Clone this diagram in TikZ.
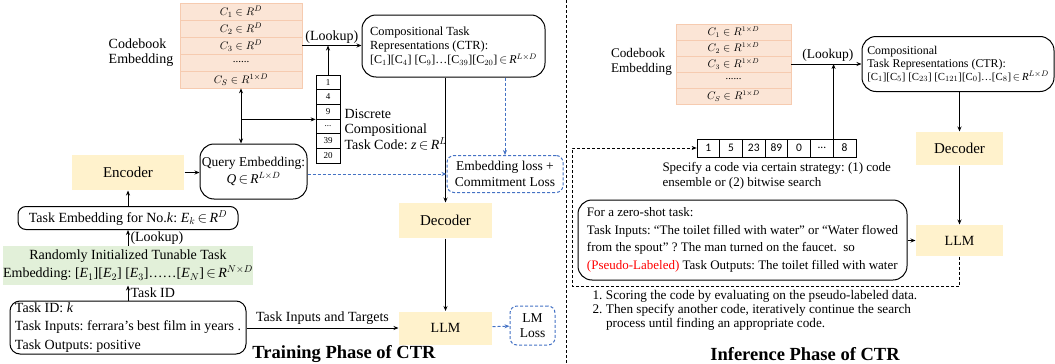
\documentclass[tikz,border=0pt]{standalone}
\usepackage{fontspec}
\setmainfont{Liberation Serif}
\newfontfamily\codefont{Carlito}
\usetikzlibrary{arrows.meta,calc}

\definecolor{orangefill}{RGB}{251,229,214}
\definecolor{orangeline}{RGB}{246,203,176}
\definecolor{yellowfill}{RGB}{255,242,204}
\definecolor{greenfill}{RGB}{226,240,217}
\definecolor{lossblue}{RGB}{68,114,196}
\definecolor{pseudored}{RGB}{255,0,0}

% bracketed indexed entry, e.g. [C_1]
\newcommand{\sq}[2]{[#1$_{#2}$]}
% "is in R^..." written compactly in text mode
\newcommand{\inR}[1]{\,$\in$\,\textit{R}$^{#1}$}

\tikzset{
  fs/.style={font=\fontsize{#1}{18}\selectfont},
  rbox/.style={draw, rounded corners=13pt, inner sep=0pt},
  yelbox/.style={fill=yellowfill, inner sep=0pt, minimum width=93pt, font=\fontsize{15}{18}\selectfont},
  cbrow/.style={fill=orangefill, draw=orangeline, line width=0.6pt, minimum width=122pt,
                minimum height=17pt, inner sep=0pt, font=\fontsize{11}{13}\selectfont},
  icbrow/.style={cbrow, minimum width=115pt, minimum height=16pt, font=\fontsize{10.5}{12}\selectfont},
  codecell/.style={draw, line width=0.7pt, minimum width=24pt, minimum height=14.67pt,
                   inner sep=0pt, font=\fontsize{9}{10}\selectfont},
  rowcell/.style={draw, line width=0.7pt, minimum width=22.7pt, minimum height=18pt,
                  inner sep=0pt, font=\codefont\fontsize{11.5}{13}\selectfont},
  lossbox/.style={draw=lossblue, dashed, dash pattern=on 3pt off 2pt, rounded corners=7pt,
                  inner sep=0pt, align=center, font=\fontsize{13.5}{15.5}\selectfont},
  blueflow/.style={draw=lossblue, dashed, dash pattern=on 3pt off 2pt, ->},
  phasetitle/.style={font=\bfseries\fontsize{18.5}{22}\selectfont},
}

\begin{document}
\frenchspacing
\begin{tikzpicture}[x=1pt, y=-1pt, line width=1pt,
  >={Stealth[length=5pt,width=4pt]}]
\useasboundingbox (0,0) rectangle (1055,364);

% ---------------- training phase ----------------
\node[cbrow] (cb1) at (241,11.5) {$C_1\in R^D$};
\node[cbrow] (cb2) at (241,28.5) {$C_2\in R^D$};
\node[cbrow] (cb3) at (241,45.5) {$C_3\in R^D$};
\node[cbrow] (cb4) at (241,62.5) {\raisebox{2pt}{......}};
\node[cbrow] (cb5) at (241,79.5) {$C_S\in R^{1\times D}$};
\node[align=left, inner sep=0pt, font=\fontsize{14}{15}\selectfont] (cbl) at (141,53) {Codebook\\Embedding};

\node[rbox, rounded corners=14pt, minimum width=183pt, minimum height=62pt,
      align=left, font=\fontsize{12.4}{14}\selectfont] (ctr) at (453.5,46)
  {Compositional Task\\Representations (CTR):\\
   {\fontsize{12}{14}\selectfont\sq{C}{1}\sq{C}{4} \sq{C}{9}\ldots\sq{C}{39}\sq{C}{20}\inR{L\times D}}};

\node[codecell] (k1) at (328,82.3) {1};
\node[codecell] (k2) at (328,97) {4};
\node[codecell] (k3) at (328,111.7) {9};
\node[codecell] (k4) at (328,126.3) {...};
\node[codecell] (k5) at (328,141) {39};
\node[codecell] (k6) at (328,155.7) {20};
\node[anchor=west, align=left, inner sep=0pt, font=\fontsize{14}{15}\selectfont] (zlbl) at (344,130)
  {Discrete\\Compositional\\Task Code: \textit{z}\inR{L}};

\node[rbox, rounded corners=14pt, minimum width=107pt, minimum height=55pt, align=center,
      font=\fontsize{13.5}{17}\selectfont] (query) at (253.5,171.5) {Query Embedding:\\\textit{Q}\inR{L\times D}};
\node[yelbox, minimum width=112pt, minimum height=35pt] (enc) at (128,172.5) {Encoder};
\node[lossbox, minimum width=116pt, minimum height=37pt] (loss) at (505,174) {Embedding loss +\\Commitment Loss};
\node[yelbox, minimum height=35pt] (dec) at (445.5,220.5) {Decoder};
\node[yelbox, minimum height=33pt, font=\fontsize{14}{16}\selectfont] (llm) at (445.5,328) {LLM};
\node[lossbox, minimum width=45pt, minimum height=39pt] (lml) at (532.5,325.5) {LM\\Loss};

\node[rbox, rounded corners=8pt, minimum width=220pt, minimum height=23pt, fs=14] (temb) at (128,218)
  {Task Embedding for No.\textit{k}: \textit{E}$_k$\inR{D}};
\node[fill=greenfill, inner sep=0pt, minimum width=243pt, minimum height=39pt, align=center,
      font=\fontsize{14}{18}\selectfont] (rand) at (128,265.5)
  {Randomly Initialized Tunable Task\\
   Embedding: \sq{\textit{E}}{1}\sq{\textit{E}}{2} \sq{\textit{E}}{3}\ldots\ldots\sq{\textit{E}}{N}\inR{N\times D}};
\node[rbox, rounded corners=10pt, minimum width=236pt, minimum height=53pt, align=left,
      font=\fontsize{14}{18.5}\selectfont] (task) at (128,327.5)
  {Task ID: \textit{k}\\Task Inputs: ferrara's best film in years .\\Task Outputs: positive};

\node[phasetitle] (t1) at (344,354) {Training Phase of CTR};

% training connectors
\draw[->] (task.north) -- (task.north |- rand.south)
  node[midway, right, inner sep=2pt, fs=14] {Task ID};
\draw[->] (rand.north) -- (rand.north |- temb.south)
  node[midway, right, inner sep=2pt, fs=14] {(Lookup)};
\draw[->] (temb.north) -- (temb.north |- enc.south);
\draw[->] (enc.east) -- (enc.east -| query.west);
\draw[<->] (cb5.south) -- (cb5.south |- query.north);
\coordinate (jn) at (cb5.south |- k3.south west);
\draw[->] (jn) -- (k3.south west);
\draw[->] (cb3.east) -- (cb3.east -| ctr.west)
  node[midway, above, inner sep=2pt, fs=14] {(Lookup)};
\draw[->] (k1.north) -- (k1.north |- cb3.east);
\draw[->] (ctr.south -| dec.north) -- (dec.north);
\draw[blueflow] (ctr.south -| loss.north) -- (loss.north);
\draw[blueflow] (query.east |- loss.west) -- (loss.west);
\draw[->] (dec) -- (llm);
\draw[->] (task.east |- llm.west) -- (llm.west)
  node[midway, above, inner sep=3pt, fs=14] {Task Inputs and Targets};
\draw[blueflow] (llm) -- (lml);

% divider between the two phases
\coordinate (divtop) at (566,0);
\coordinate (divbot) at (566,364);
\draw[dashed, dash pattern=on 3pt off 2pt] (divtop) -- (divbot);

% ---------------- inference phase ----------------
\node[icbrow] (ib1) at (733.5,32) {$C_1\in R^{1\times D}$};
\node[icbrow] (ib2) at (733.5,48) {$C_2\in R^{1\times D}$};
\node[icbrow] (ib3) at (733.5,64) {$C_3\in R^{1\times D}$};
\node[icbrow] (ib4) at (733.5,80) {\raisebox{2pt}{......}};
\node[icbrow] (ib5) at (733.5,96) {$C_S\in R^{1\times D}$};
\node[align=left, inner sep=0pt, font=\fontsize{13.2}{15}\selectfont] (icbl) at (641.5,61.5) {Codebook\\Embedding};

\node[rbox, rounded corners=14pt, minimum width=192pt, minimum height=55pt,
      align=left, font=\fontsize{11.9}{13}\selectfont] (ictr) at (958,64)
  {Compositional\\Task Representations (CTR):\\
   {\fontsize{10.8}{13}\selectfont\sq{C}{1}\sq{C}{5} \sq{C}{23} \sq{C}{121}\sq{C}{0}\ldots\sq{C}{8}\inR{L\times D}}};
\node[yelbox, minimum width=87pt, minimum height=33pt] (idec) at (959.5,148.5) {Decoder};
\node[yelbox, minimum width=87pt, minimum height=31pt, font=\fontsize{14}{16}\selectfont] (illm) at (959.5,240.5) {LLM};

\node[rowcell] (r1) at (708.35,148) {1};
\node[rowcell] (r2) at (731.05,148) {5};
\node[rowcell] (r3) at (753.75,148) {23};
\node[rowcell] (r4) at (776.45,148) {89};
\node[rowcell] (r5) at (799.15,148) {0};
\node[rowcell] (r6) at (821.85,148) {...};
\node[rowcell] (r7) at (844.55,148) {8};
\node[anchor=west, align=left, inner sep=0pt, font=\fontsize{13}{15}\selectfont] (spec) at (662,175.5)
  {Specify a code via certain strategy: (1) code\\ensemble or (2) bitwise search};

\node[rbox, rounded corners=14pt, minimum width=329pt, minimum height=80pt, align=left,
      font=\fontsize{13}{17.5}\selectfont] (zero) at (742.5,240)
  {For a zero-shot task:\\
   Task Inputs: ``The toilet filled with water'' or ``Water flowed\\
   from the spout'' ? The man turned on the faucet.\ \ so\\
   \textcolor{pseudored}{(Pseudo-Labeled)} Task Outputs: The toilet filled with water};

\node[anchor=north west, align=left, inner sep=0pt, font=\fontsize{13.2}{14}\selectfont] (steps) at (592,290)
  {\makebox[13.5pt][l]{1.}Scoring the code by evaluating on the pseudo-labeled data.\\
   \makebox[13.5pt][l]{2.}Then specify another code, iteratively continue the search\\
   \hspace*{13.5pt}process until finding an appropriate code.};

\node[phasetitle] (t2) at (805,354) {Inference Phase of CTR};

% inference connectors
\draw[->] (ib3.east) -- (ib3.east -| ictr.west)
  node[pos=0.52, above, inner sep=2pt, fs=13.5] {(Lookup)};
\draw[->] (r6.north east) -- (r6.north east |- ictr.west);
\draw[->] (ictr.south -| idec.north) -- (idec.north);
\draw[->] (idec) -- (illm);
\draw[->] (zero.east |- illm.west) -- (illm.west);
\coordinate (ret) at (572,286);
\draw[dashed, dash pattern=on 3pt off 2pt, ->] (illm.south) |- (ret) |- (r1.west);
\end{tikzpicture}
\end{document}
